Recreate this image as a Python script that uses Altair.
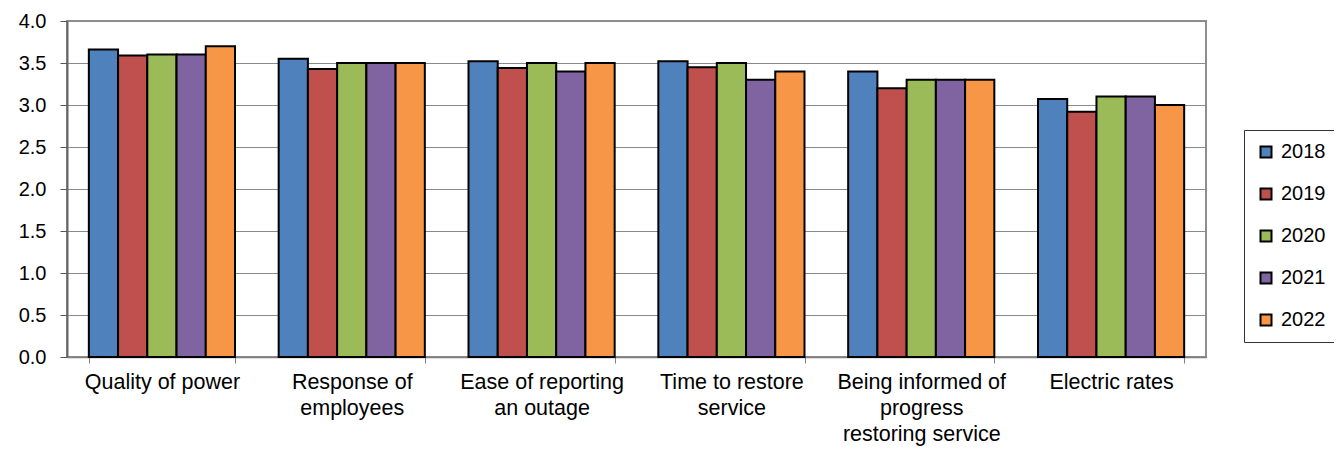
import altair as alt
import pandas as pd

categories = [
    "Quality of power",
    "Response of|employees",
    "Ease of reporting|an outage",
    "Time to restore|service",
    "Being informed of|progress|restoring service",
    "Electric rates",
]
years = ["2018", "2019", "2020", "2021", "2022"]
v2018 = [3.66, 3.55, 3.52, 3.52, 3.40, 3.07]
v2019 = [3.59, 3.43, 3.44, 3.45, 3.20, 2.92]
v2020 = [3.60, 3.50, 3.50, 3.50, 3.30, 3.10]
v2021 = [3.60, 3.50, 3.40, 3.30, 3.30, 3.10]
v2022 = [3.70, 3.50, 3.50, 3.40, 3.30, 3.00]
colors = ["#4F81BD", "#C0504D", "#9BBB59", "#8064A2", "#F79646"]
y_ticks = [0, 0.5, 1.0, 1.5, 2.0, 2.5, 3.0, 3.5, 4.0]

series = [v2018, v2019, v2020, v2021, v2022]
rows = []
for yr, vals in zip(years, series):
    for c, v in zip(categories, vals):
        rows.append({"cat": c, "year": yr, "value": v})
df = pd.DataFrame(rows)

chart = (
    alt.Chart(df)
    .mark_bar(stroke="black", strokeWidth=2)
    .encode(
        x=alt.X(
            "cat:N",
            sort=categories,
            scale=alt.Scale(paddingInner=0.23, paddingOuter=0.115),
            axis=alt.Axis(
                title=None,
                labelAngle=0,
                tickBand="extent",
                labelExpr="isValid(datum.value) ? split(datum.value, '|') : ''",
                labelFontSize=21.5,
                labelLineHeight=26,
                labelLimit=0,
                labelPadding=8,
                labelColor="black",
                tickSize=6,
                tickColor="#7f7f7f",
                domainColor="#7f7f7f",
                domainWidth=1.5,
                labelBaseline="top",
            ),
        ),
        xOffset=alt.XOffset("year:N", sort=years),
        y=alt.Y(
            "value:Q",
            scale=alt.Scale(domain=[0, 4]),
            axis=alt.Axis(
                title=None,
                values=y_ticks,
                format=".1f",
                labelFontSize=20,
                labelColor="black",
                labelPadding=14,
                tickSize=7,
                tickColor="#555555",
                domainColor="#666666",
                domainWidth=2,
                gridColor="#8a8a8a",
                gridWidth=1.2,
            ),
        ),
        color=alt.Color(
            "year:N",
            scale=alt.Scale(domain=years, range=colors),
            legend=alt.Legend(
                title=None,
                orient="none",
                legendX=1177,
                legendY=109,
                symbolType="square",
                symbolSize=121,
                symbolStrokeColor="black",
                symbolStrokeWidth=2,
                labelFontSize=20,
                labelColor="black",
                labelOffset=5,
                rowPadding=22,
                padding=12,
                strokeColor="#333333",
                fillColor="white",
            ),
        ),
    )
    .properties(
        width=1139,
        height=336,
        autosize=alt.AutoSizeParams(type="none"),
        padding={"left": 59, "top": 13, "right": 128, "bottom": 89},
    )
    .configure(font="Liberation Sans")
    .configure_view(stroke="#8e8e8e", strokeWidth=2)
)

chart.save("out.html", embed_options={"renderer": "svg", "actions": False})
